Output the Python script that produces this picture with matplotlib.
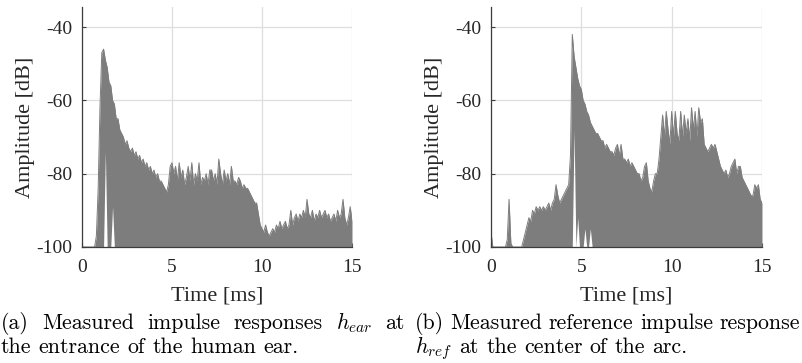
import numpy as np
import matplotlib
matplotlib.use("Agg")
import matplotlib.pyplot as plt

plt.rcParams['axes.unicode_minus'] = False
plt.rcParams['mathtext.fontset'] = 'cm'

# time axis in ms, 0.1 ms steps
t = np.round(np.arange(0, 151) * 0.1, 1)

# (a) h_ear, upper envelope in dB
h_ear = [
    -100, -100, -100, -100, -100, -100, -100, -100, -97, -84,    # 0.0-0.9
    -62, -47, -46, -49, -51, -55, -56, -60, -61, -65,           # 1.0-1.9
    -65, -68, -69, -70, -72, -71, -73, -74, -73, -75,           # 2.0-2.9
    -74, -76, -75, -77, -76, -78, -77, -79, -78, -80,           # 3.0-3.9
    -79, -81, -80, -82, -82, -83, -84, -85, -83, -78,           # 4.0-4.9
    -77, -80, -78, -82, -77, -81, -79, -83, -81, -78,           # 5.0-5.9
    -82, -77, -83, -80, -82, -77, -83, -81, -82, -80,           # 6.0-6.9
    -83, -79, -79, -82, -80, -83, -76, -80, -83, -79,           # 7.0-7.9
    -82, -80, -83, -78, -82, -82, -83, -81, -82, -84,           # 8.0-8.9
    -83, -84, -84, -85, -86, -87, -88, -88, -91, -94,           # 9.0-9.9
    -95, -96, -94, -96, -97, -96, -95, -96, -94, -95,           # 10.0-10.9
    -93, -95, -94, -93, -95, -94, -90, -94, -92, -91,           # 11.0-11.9
    -93, -91, -92, -90, -92, -87, -91, -92, -90, -93,           # 12.0-12.9
    -91, -92, -90, -92, -91, -90, -92, -91, -93, -92,           # 13.0-13.9
    -91, -93, -90, -92, -91, -87, -92, -94, -92, -89,           # 14.0-14.9
    -93,                                                         # 15.0
]
# (a) lower edge, -100 except a few gaps
ear_low_t = [1.3, 1.7]
ear_low_v = [-74, -89]

# (b) h_ref, upper envelope in dB
h_ref = [
    -96, -100, -100, -100, -100, -100, -100, -100, -100, -98,    # 0.0-0.9
    -87, -99, -100, -100, -100, -100, -100, -100, -98, -96,      # 1.0-1.9
    -94, -92, -93, -90, -91, -89, -90, -89, -90, -89,            # 2.0-2.9
    -90, -89, -88, -90, -88, -87, -83, -86, -88, -87,            # 3.0-3.9
    -86, -85, -84, -83, -75, -42, -48, -51, -54, -56,            # 4.0-4.9
    -57, -60, -61, -63, -64, -66, -67, -68, -69, -69,            # 5.0-5.9
    -70, -71, -71, -73, -72, -73, -74, -74, -75, -73,            # 6.0-6.9
    -72, -75, -72, -76, -76, -77, -76, -78, -77, -78,            # 7.0-7.9
    -79, -80, -80, -82, -81, -78, -77, -82, -84, -85,            # 8.0-8.9
    -82, -80, -80, -76, -70, -64, -70, -63, -68, -72,            # 9.0-9.9
    -63, -70, -63, -69, -71, -63, -70, -64, -69, -65,            # 10.0-10.9
    -71, -62, -68, -63, -70, -62, -66, -65, -72, -73,            # 11.0-11.9
    -74, -73, -72, -73, -72, -74, -76, -78, -79, -80,            # 12.0-12.9
    -79, -81, -80, -78, -77, -76, -80, -78, -78, -81,            # 13.0-13.9
    -82, -83, -84, -85, -86, -86, -83, -84, -83, -87,            # 14.0-14.9
    -88,                                                         # 15.0
]
ref_low_t = [4.6, 4.8, 5.2, 5.5]
ref_low_v = [-68, -92, -95, -95]

# captions, one list of lines per panel (first line justified like LaTeX)
cap_a = ["(a) Measured impulse responses $h_{ear}$ at",
         "the entrance of the human ear."]
cap_b = ["(b) Measured reference impulse response",
         "$h_{ref}$ at the center of the arc."]

fill_col = '#7d7d7d'
grid_col = '#dedede'
spine_col = '#3c3c3c'
txt_col = '#262626'
tick_font = 'Liberation Serif'
cap_size = 15.75

W, H = 802, 363
fig = plt.figure(figsize=(W / 100, H / 100), dpi=100)
ax_a = fig.add_axes([0.1022, 0.3196, 0.3367, 0.6612])
ax_b = fig.add_axes([0.6122, 0.3196, 0.3379, 0.6612])


def lower_edge(low_t, low_v):
    low = np.full(len(t), -100.0)
    for tt, vv in zip(low_t, low_v):
        low[np.argmin(np.abs(t - tt))] = vv
    return low


panels = [
    (ax_a, h_ear, lower_edge(ear_low_t, ear_low_v)),
    (ax_b, h_ref, lower_edge(ref_low_t, ref_low_v)),
]

for ax, high, low in panels:
    high = np.array(high, dtype=float)
    ax.fill_between(t, low, high, color=fill_col, lw=0, zorder=2)
    ax.plot(t, high, color=fill_col, lw=0.7, zorder=2)
    ax.set_xlim(0, 15)
    ax.set_ylim(-100, -34.5)
    ax.set_xticks([0, 5, 10, 15])
    ax.set_yticks([-100, -80, -60, -40])
    ax.grid(True, color=grid_col, lw=0.9)
    ax.set_axisbelow(True)
    for s in ['top', 'right']:
        ax.spines[s].set_visible(False)
    for s in ['left', 'bottom']:
        ax.spines[s].set_color(spine_col)
        ax.spines[s].set_linewidth(0.9)
        ax.spines[s].set_zorder(3)
    ax.tick_params(direction='in', length=3, width=0.8, color=spine_col,
                   labelsize=14)
    ax.tick_params(axis='x', pad=9)
    ax.tick_params(axis='y', pad=7)
    for lab in ax.get_xticklabels() + ax.get_yticklabels():
        lab.set_family(tick_font)
        lab.set_color(txt_col)
    ax.set_xlabel("Time [ms]", fontsize=16, family=tick_font, color=txt_col, labelpad=7)
    ax.set_ylabel("Amplitude [dB]", fontsize=16, family=tick_font, color=txt_col, labelpad=1)

renderer = fig.canvas.get_renderer()


def word_widths(words, size):
    objs = [fig.text(0, 0, w, fontsize=size, family='cmr10') for w in words]
    ws = [o.get_window_extent(renderer).width for o in objs]
    for o in objs:
        o.remove()
    return ws


def put_line(line, x0, y, target=None):
    words = line.split(' ')
    widths = word_widths(words, cap_size)
    gap = cap_size * 100 / 72 * 0.333
    if target is not None and len(words) > 1:
        gap = max((target - sum(widths)) / (len(words) - 1),
                  cap_size * 100 / 72 * 0.22)
    x = x0
    for w, wd in zip(words, widths):
        fig.text(x / W, 1 - y / H, w, ha='left', va='baseline', fontsize=cap_size,
                 family='cmr10', color='black')
        x += wd + gap


put_line(cap_a[0], 1, 329, target=404)
put_line(cap_a[1], 1, 353)
put_line(cap_b[0], 415, 329, target=385)
put_line(cap_b[1], 415, 353)

fig.savefig('out.png', dpi=100)
